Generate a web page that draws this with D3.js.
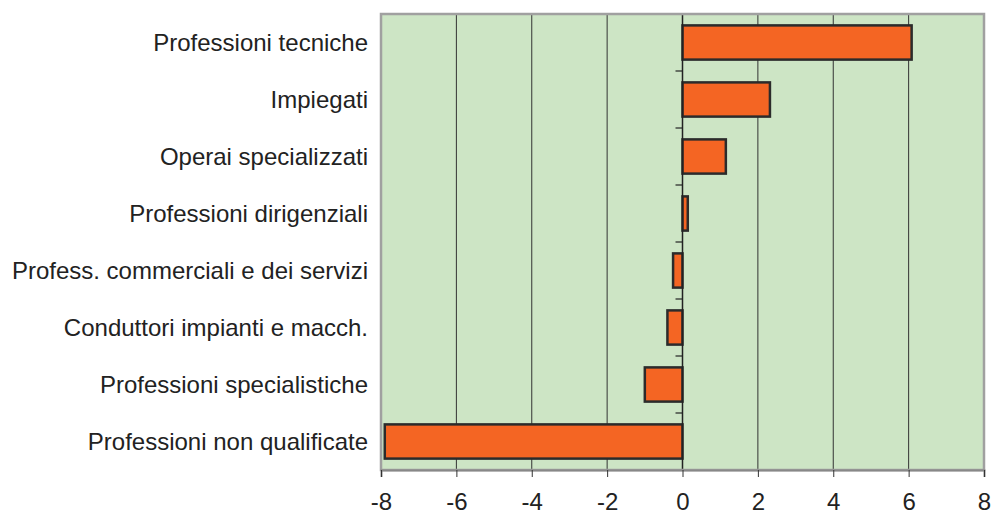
<!DOCTYPE html>
<html>
<head>
<meta charset="utf-8">
<script src="https://cdn.jsdelivr.net/npm/d3@7"></script>
<style>
  body { margin: 0; background: #fff; }
  svg { display: block; font-family: "Liberation Sans", Arial, sans-serif; }
</style>
</head>
<body>
<div id="chart"></div>
<script>
// data
const categories = [
  "Professioni tecniche",
  "Impiegati",
  "Operai specializzati",
  "Professioni dirigenziali",
  "Profess. commerciali e dei servizi",
  "Conduttori impianti e macch.",
  "Professioni specialistiche",
  "Professioni non qualificate"
];
const values = [6.08, 2.32, 1.15, 0.14, -0.25, -0.4, -1.0, -7.9];
const xTicks = [-8, -6, -4, -2, 0, 2, 4, 6, 8];

const W = 991, H = 510;
const margin = { top: 14, right: 7, bottom: 40, left: 381 };
const width = W - margin.left - margin.right;
const height = H - margin.top - margin.bottom;

const svg = d3.select("#chart").append("svg")
    .attr("width", W)
    .attr("height", H);

const g = svg.append("g")
    .attr("transform", `translate(${margin.left},${margin.top})`);

const x = d3.scaleLinear().domain([-8, 8]).range([0, width]);
const y = d3.scaleBand().domain(categories).range([0, height]).paddingInner(0.4).paddingOuter(0.2);
const yEdges = d3.scaleBand().domain(categories).range([0, height]);

// background
g.append("rect")
    .attr("width", width).attr("height", height)
    .attr("fill", "#cde5c5");

// gridlines
g.selectAll(".grid")
    .data(xTicks.filter(d => d !== -8 && d !== 8 && d !== 0))
    .enter().append("line")
    .attr("x1", d => x(d)).attr("x2", d => x(d))
    .attr("y1", 0).attr("y2", height)
    .attr("stroke", "#333").attr("stroke-width", 1);

// bars
g.selectAll(".bar")
    .data(values)
    .enter().append("rect")
    .attr("x", d => x(Math.min(0, d)))
    .attr("width", d => Math.abs(x(d) - x(0)))
    .attr("y", (d, i) => y(categories[i]))
    .attr("height", y.bandwidth())
    .attr("fill", "#f46523")
    .attr("stroke", "#2b2b2b")
    .attr("stroke-width", 2.5);

// zero axis with category ticks
g.append("line")
    .attr("x1", x(0)).attr("x2", x(0))
    .attr("y1", 0).attr("y2", height)
    .attr("stroke", "#222").attr("stroke-width", 1.5);

g.selectAll(".ctick")
    .data(categories)
    .enter().append("line")
    .attr("x1", x(0) - 7).attr("x2", x(0))
    .attr("y1", d => yEdges(d)).attr("y2", d => yEdges(d))
    .attr("stroke", "#222").attr("stroke-width", 1.2);

// frame
g.append("rect")
    .attr("width", width).attr("height", height)
    .attr("fill", "none")
    .attr("stroke", "#a0a0a0").attr("stroke-width", 2.5);

// x axis
const xAxis = g.append("g")
    .attr("transform", `translate(0,${height})`)
    .call(d3.axisBottom(x).tickValues(xTicks).tickSize(7).tickPadding(16).tickFormat(d => String(d)));
xAxis.select(".domain").attr("stroke", "#888").attr("stroke-width", 2);
xAxis.selectAll(".tick line").attr("stroke", "#333");
xAxis.selectAll("text").attr("font-size", 24).attr("fill", "#222")
    .attr("font-family", "Liberation Sans, Arial, sans-serif");

// category labels
g.selectAll(".label")
    .data(categories)
    .enter().append("text")
    .attr("x", -13)
    .attr("y", d => y(d) + y.bandwidth() / 2)
    .attr("dy", "0.35em")
    .attr("text-anchor", "end")
    .attr("font-size", 24)
    .attr("fill", "#222")
    .text(d => d);
</script>
</body>
</html>
